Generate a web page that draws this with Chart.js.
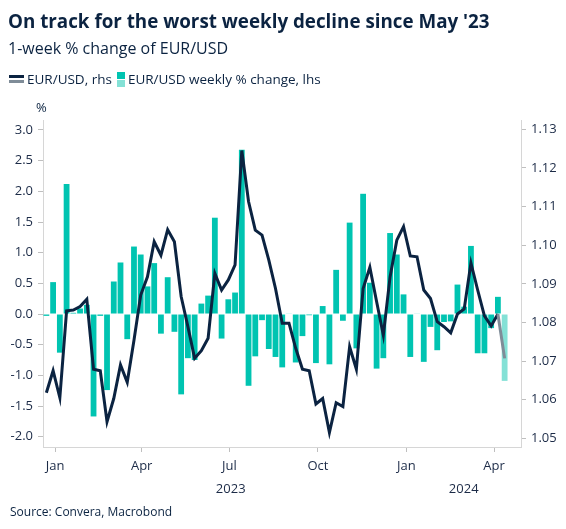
<!DOCTYPE html>
<html>
<head>
<meta charset="utf-8">
<script src="https://cdn.jsdelivr.net/npm/chart.js@4.4.1/dist/chart.umd.min.js"></script>
<style>
  html, body { margin: 0; padding: 0; background: #fff; }
  #wrap { position: relative; width: 566px; height: 529px; font-family: 'Open Sans', sans-serif; color: #0b2341; }
  #chart { position: absolute; left: 0; top: 0; }
  .txt { position: absolute; white-space: nowrap; }
  #title { left: 8px; top: 8px; font-size: 18.8px; font-weight: 700; }
  #subtitle { left: 8px; top: 37px; font-size: 16px; font-weight: 400; }
  #legend { left: 9px; top: 70px; font-size: 13.5px; display: flex; align-items: center; }
  .ico { display: inline-block; margin-right: 3px; }
  .ico span { display: block; }
  #pct { left: 36px; top: 98px; font-size: 13px; }
  #source { left: 10px; top: 503px; font-size: 12px; }
</style>
</head>
<body>
<div id="wrap">
  <canvas id="chart" width="566" height="529"></canvas>
  <div class="txt" id="title">On track for the worst weekly decline since May '23</div>
  <div class="txt" id="subtitle">1-week % change of EUR/USD</div>
  <div class="txt" id="legend">
    <span class="ico"><span style="width:15px;height:3px;background:#0b2341;margin-bottom:2px"></span><span style="width:15px;height:3px;background:#7f8c98"></span></span>
    <span style="margin-right:5px">EUR/USD, rhs</span>
    <span class="ico"><span style="width:8px;height:7px;background:#00c4b1;margin-bottom:1px"></span><span style="width:8px;height:7px;background:#84e1d6"></span></span>
    <span>EUR/USD weekly % change, lhs</span>
  </div>
  <div class="txt" id="pct">%</div>
  <div class="txt" id="source">Source: Convera, Macrobond</div>
</div>
<script>
const weekEnding = [
  '2022-12-23', '2022-12-30', '2023-01-06', '2023-01-13', '2023-01-20', '2023-01-27', '2023-02-03', '2023-02-10', '2023-02-17', '2023-02-24',
  '2023-03-03', '2023-03-10', '2023-03-17', '2023-03-24', '2023-03-31', '2023-04-07', '2023-04-14', '2023-04-21', '2023-04-28', '2023-05-05',
  '2023-05-12', '2023-05-19', '2023-05-26', '2023-06-02', '2023-06-09', '2023-06-16', '2023-06-23', '2023-06-30', '2023-07-07', '2023-07-14',
  '2023-07-21', '2023-07-28', '2023-08-04', '2023-08-11', '2023-08-18', '2023-08-25', '2023-09-01', '2023-09-08', '2023-09-15', '2023-09-22',
  '2023-09-29', '2023-10-06', '2023-10-13', '2023-10-20', '2023-10-27', '2023-11-03', '2023-11-10', '2023-11-17', '2023-11-24', '2023-12-01',
  '2023-12-08', '2023-12-15', '2023-12-22', '2023-12-29', '2024-01-05', '2024-01-12', '2024-01-19', '2024-01-26', '2024-02-02', '2024-02-09',
  '2024-02-16', '2024-02-23', '2024-03-01', '2024-03-08', '2024-03-15', '2024-03-22', '2024-03-29', '2024-04-05', '2024-04-12'
];

// weekly % change, left axis
const weeklyChange = [
  -0.03, 0.52, -0.63, 2.12, 0.02, 0.09, 0.15, -1.67, -0.03, -1.24,
  0.53, 0.84, -0.41, 1.10, 0.97, 0.45, 0.83, -0.32, 0.60, -0.29,
  -1.31, -0.72, -0.75, 0.17, 0.30, 1.57, -0.40, 0.24, 0.35, 2.68,
  -1.17, -0.69, -0.10, -0.57, -0.70, -0.87, 0.01, -0.79, -0.36, -0.02,
  -0.80, 0.13, -0.82, 0.72, -0.11, 1.49, -0.56, 1.96, 0.51, -0.89,
  -0.72, 1.32, 0.97, 0.32, -0.70, 0.01, -0.78, -0.21, -0.59, -0.13,
  -0.12, 0.48, 0.12, 1.11, -0.64, -0.64, -0.23, 0.28, -1.09
];

// EUR/USD level, right axis
const eurUsd = [
  1.0618, 1.0675, 1.0605, 1.0830, 1.0832, 1.0841, 1.0860, 1.0679, 1.0675, 1.0543,
  1.0603, 1.0690, 1.0645, 1.0754, 1.0871, 1.0918, 1.1009, 1.0974, 1.1040, 1.1009,
  1.0867, 1.0789, 1.0707, 1.0727, 1.0759, 1.0927, 1.0884, 1.0910, 1.0949, 1.1245,
  1.1113, 1.1039, 1.1026, 1.0962, 1.0888, 1.0798, 1.0798, 1.0733, 1.0679, 1.0675,
  1.0589, 1.0603, 1.0515, 1.0592, 1.0582, 1.0737, 1.0679, 1.0888, 1.0943, 1.0854,
  1.0767, 1.0918, 1.1013, 1.1048, 1.0972, 1.0970, 1.0884, 1.0862, 1.0802, 1.0789,
  1.0773, 1.0822, 1.0835, 1.0954, 1.0884, 1.0817, 1.0791, 1.0822, 1.0707
];

const monthTicks = ['2023-01-01', '2023-04-01', '2023-07-01', '2023-10-01', '2024-01-01', '2024-04-01'];
const monthLabels = ['Jan', 'Apr', 'Jul', 'Oct', 'Jan', 'Apr'];
const yearStarts = ['2023-01-01', '2024-01-01', '2025-01-01'];
const yearLabels = ['2023', '2024'];
const leftTicks = [-2.0, -1.5, -1.0, -0.5, 0.0, 0.5, 1.0, 1.5, 2.0, 2.5, 3.0];
const rightTicks = [1.05, 1.06, 1.07, 1.08, 1.09, 1.10, 1.11, 1.12, 1.13];

const navy = '#0b2341';
const navyFaded = '#7f8c98';
const teal = '#00c4b1';
const tealFaded = '#84e1d6';
const axisGrey = '#d6d6d6';

// days since 1 Jan 2023
const origin = Date.UTC(2023, 0, 1);
const toDay = (s) => {
  const [y, m, d] = s.split('-').map(Number);
  return (Date.UTC(y, m - 1, d) - origin) / 86400000;
};

const xMin = -12.5;
const xMax = 484;
const last = weekEnding.length - 1;

const yearCentres = yearLabels.map((_, i) => {
  const a = Math.max(toDay(yearStarts[i]), xMin);
  const b = Math.min(toDay(yearStarts[i + 1]), xMax);
  return (a + b) / 2;
});

Chart.defaults.font.family = "'Open Sans', sans-serif";
Chart.defaults.font.size = 13;
Chart.defaults.color = '#1c2b47';

const config = {
  type: 'bar',
  data: {
    datasets: [{
      type: 'line',
      label: 'EUR/USD, rhs',
      data: weekEnding.map((d, i) => ({ x: toDay(d), y: eurUsd[i] })),
      yAxisID: 'y1',
      xAxisID: 'x',
      borderColor: navy,
      borderWidth: 3,
      pointRadius: 0,
      tension: 0,
      segment: {
        borderColor: (ctx) => ctx.p1DataIndex === last ? navyFaded : navy
      },
      order: 1
    }, {
      type: 'bar',
      label: 'EUR/USD weekly % change, lhs',
      data: weekEnding.map((d, i) => ({ x: toDay(d), y: weeklyChange[i] })),
      yAxisID: 'y',
      xAxisID: 'x',
      backgroundColor: (ctx) => ctx.dataIndex === last ? tealFaded : teal,
      categoryPercentage: 1,
      barPercentage: 0.86,
      order: 2
    }]
  },
  options: {
    responsive: false,
    animation: false,
    layout: { padding: { top: 120, bottom: 30, left: 0, right: 0 } },
    plugins: { legend: { display: false }, tooltip: { enabled: false } },
    scales: {
      x: {
        type: 'linear',
        position: 'bottom',
        min: xMin,
        max: xMax,
        offset: false,
        grid: { display: true, drawOnChartArea: false, offset: false, tickLength: 5, color: '#bfbfbf' },
        border: { display: true, color: axisGrey },
        ticks: { autoSkip: false, maxRotation: 0, padding: 6, callback: (v, i) => monthLabels[i] },
        afterBuildTicks: (scale) => { scale.ticks = monthTicks.map((m) => ({ value: toDay(m) })); },
        afterFit: (scale) => { scale.height = 30; }
      },
      x2: {
        type: 'linear',
        position: 'bottom',
        min: xMin,
        max: xMax,
        offset: false,
        grid: { display: false, drawTicks: false },
        border: { display: false },
        ticks: { autoSkip: false, maxRotation: 0, padding: 4, callback: (v, i) => yearLabels[i] },
        afterBuildTicks: (scale) => { scale.ticks = yearCentres.map((c) => ({ value: c })); },
        afterFit: (scale) => { scale.height = 22; }
      },
      y: {
        type: 'linear',
        position: 'left',
        min: -2.168,
        max: 3.163,
        grid: { display: true, drawOnChartArea: false, tickLength: 5, color: '#bfbfbf' },
        border: { display: true, color: axisGrey },
        ticks: { padding: 5, callback: (v) => v.toFixed(1) },
        afterBuildTicks: (scale) => { scale.ticks = leftTicks.map((v) => ({ value: v })); },
        afterFit: (scale) => { scale.width = 43; }
      },
      y1: {
        type: 'linear',
        position: 'right',
        min: 1.04775,
        max: 1.13241,
        grid: { display: true, drawOnChartArea: false, tickLength: 5, color: '#bfbfbf' },
        border: { display: true, color: axisGrey },
        ticks: { padding: 5, callback: (v) => v.toFixed(2) },
        afterBuildTicks: (scale) => { scale.ticks = rightTicks.map((v) => ({ value: v })); },
        afterFit: (scale) => { scale.width = 45; }
      }
    }
  }
};

const myChart = new Chart(document.getElementById('chart'), config);
</script>
</body>
</html>
